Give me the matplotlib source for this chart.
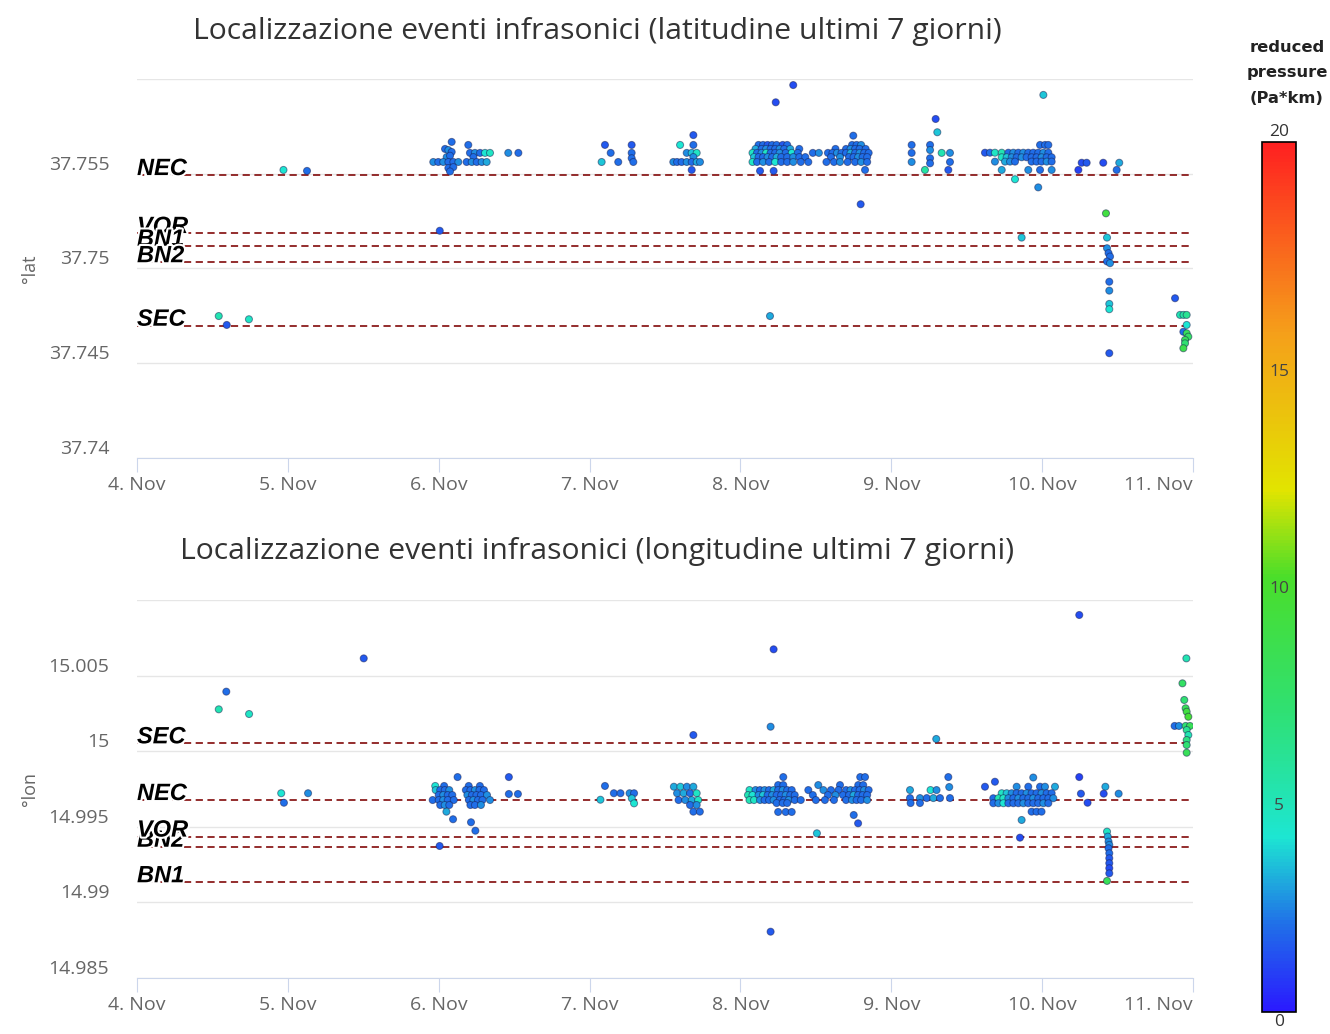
import matplotlib
matplotlib.use("Agg")
import matplotlib.pyplot as plt
import matplotlib.patheffects as pe
from matplotlib.colors import LinearSegmentedColormap, Normalize
from matplotlib.cm import ScalarMappable
from matplotlib.transforms import ScaledTranslation, blended_transform_factory

# giorni di novembre (frazione = ora del giorno)
day_ticks = [4, 5, 6, 7, 8, 9, 10, 11]
day_labels = ["4. Nov", "5. Nov", "6. Nov", "7. Nov", "8. Nov", "9. Nov", "10. Nov", "11. Nov"]

# stazioni
lat_station_names = ["NEC", "VOR", "BN1", "BN2", "SEC"]
lat_station_vals = [37.75493, 37.75187, 37.75120, 37.75033, 37.74698]
lon_station_names = ["SEC", "NEC", "BN2", "VOR", "BN1"]
lon_station_vals = [15.00052, 14.99677, 14.99368, 14.99435, 14.99133]

lat_ticks = [37.74, 37.745, 37.75, 37.755, 37.76]
lat_tick_labels = ["37.74", "37.745", "37.75", "37.755", ""]
lon_ticks = [14.985, 14.99, 14.995, 15.0, 15.005, 15.01]
lon_tick_labels = ["14.985", "14.99", "14.995", "15", "15.005", ""]

# eventi - latitudine
lat_day = [
    4.542, 4.595, 4.742,
    4.971, 5.127,
    6.007,
    6.086, 6.042, 6.064, 6.086, 6.053, 6.075, 5.964, 5.997, 6.030, 6.064, 6.097, 6.130, 6.064, 6.097, 6.075,
    6.196, 6.207, 6.240, 6.274, 6.307, 6.340, 6.230, 6.185, 6.219, 6.252, 6.285, 6.318, 6.461, 6.528,
    7.102, 7.140, 7.080, 7.190, 7.279, 7.279, 7.279, 7.290,
    7.688, 7.600, 7.688, 7.644, 7.677, 7.710, 7.688, 7.555, 7.580, 7.610, 7.644, 7.677, 7.710, 7.732, 7.677,
    8.350, 8.234, 8.196, 8.797, 8.748, 8.826,
    8.12, 8.15, 8.18, 8.21, 8.24, 8.28, 8.31,
    8.10, 8.14, 8.17, 8.20, 8.23, 8.26, 8.29, 8.33, 8.39,
    8.08, 8.11, 8.14, 8.17, 8.20, 8.23, 8.26, 8.30, 8.34, 8.38, 8.48, 8.52,
    8.09, 8.12, 8.15, 8.18, 8.21, 8.24, 8.27, 8.31, 8.35, 8.39, 8.43,
    8.08, 8.11, 8.15, 8.19, 8.23, 8.27, 8.31, 8.35, 8.40, 8.45,
    8.13, 8.22,
    8.74, 8.77, 8.80,
    8.63, 8.70, 8.73, 8.76, 8.79, 8.83,
    8.58, 8.61, 8.64, 8.67, 8.70, 8.73, 8.76, 8.79, 8.82, 8.85,
    8.60, 8.66, 8.72, 8.75, 8.78, 8.81, 8.84,
    8.57, 8.62, 8.66, 8.71, 8.76, 8.80, 8.84,
    9.294, 9.305, 9.135, 9.135, 9.135, 9.257, 9.257, 9.257, 9.257, 9.334, 9.389, 9.389, 9.223, 9.378,
    10.008, 9.820, 9.974, 9.864,
    9.986, 10.019, 10.041,
    9.621, 9.654, 9.687, 9.732, 9.776, 9.809, 9.842, 9.875, 9.908, 9.941, 9.974, 10.008, 10.041,
    9.732, 9.765, 9.798, 9.831, 9.864, 9.897, 9.930, 9.963, 9.996, 10.030, 10.063,
    9.687, 9.754, 9.787, 9.820, 9.930, 9.963, 9.996, 10.030, 10.063,
    9.732, 9.908, 9.986, 10.063,
    10.240, 10.262, 10.295, 10.405, 10.511, 10.494,
    10.423, 10.430, 10.430, 10.440, 10.450, 10.430, 10.450, 10.445, 10.445, 10.445, 10.445, 10.445,
    10.881, 10.914, 10.937, 10.958, 10.936, 10.958, 10.958, 10.969, 10.947, 10.947, 10.936,
]
lat_deg = [
    37.74749, 37.74702, 37.74732,
    37.75520, 37.75515,
    37.75199,
    37.75668, 37.75631, 37.75625, 37.75615, 37.75588, 37.75595, 37.75562, 37.75562, 37.75562, 37.75562, 37.75562, 37.75562, 37.75530, 37.75535, 37.75512,
    37.75652, 37.75610, 37.75610, 37.75610, 37.75610, 37.75610, 37.75588, 37.75562, 37.75562, 37.75562, 37.75562, 37.75562, 37.75610, 37.75610,
    37.75652, 37.75610, 37.75562, 37.75562, 37.75652, 37.75610, 37.75582, 37.75562,
    37.75704, 37.75652, 37.75652, 37.75610, 37.75610, 37.75610, 37.75588, 37.75562, 37.75562, 37.75562, 37.75562, 37.75562, 37.75562, 37.75562, 37.75520,
    37.75968, 37.75877, 37.74749, 37.75339, 37.75701, 37.75520,
    37.75652, 37.75652, 37.75652, 37.75652, 37.75652, 37.75652, 37.75652,
    37.75631, 37.75631, 37.75631, 37.75631, 37.75631, 37.75631, 37.75631, 37.75631, 37.75631,
    37.75610, 37.75610, 37.75610, 37.75610, 37.75610, 37.75610, 37.75610, 37.75610, 37.75610, 37.75610, 37.75610, 37.75610,
    37.75588, 37.75588, 37.75588, 37.75588, 37.75588, 37.75588, 37.75588, 37.75588, 37.75588, 37.75588, 37.75588,
    37.75562, 37.75562, 37.75562, 37.75562, 37.75562, 37.75562, 37.75562, 37.75562, 37.75562, 37.75562,
    37.75515, 37.75515,
    37.75652, 37.75652, 37.75652,
    37.75631, 37.75631, 37.75631, 37.75631, 37.75631, 37.75631,
    37.75610, 37.75610, 37.75610, 37.75610, 37.75610, 37.75610, 37.75610, 37.75610, 37.75610, 37.75610,
    37.75588, 37.75588, 37.75588, 37.75588, 37.75588, 37.75588, 37.75588,
    37.75562, 37.75562, 37.75562, 37.75562, 37.75562, 37.75562, 37.75562,
    37.75789, 37.75719, 37.75652, 37.75610, 37.75562, 37.75652, 37.75625, 37.75582, 37.75555, 37.75610, 37.75610, 37.75562, 37.75520, 37.75520,
    37.75916, 37.75471, 37.75428, 37.75163,
    37.75652, 37.75652, 37.75652,
    37.75611, 37.75611, 37.75611, 37.75611, 37.75611, 37.75611, 37.75611, 37.75611, 37.75611, 37.75611, 37.75611, 37.75611, 37.75611,
    37.75587, 37.75587, 37.75587, 37.75587, 37.75587, 37.75587, 37.75587, 37.75587, 37.75587, 37.75587, 37.75587,
    37.75564, 37.75564, 37.75564, 37.75564, 37.75564, 37.75564, 37.75564, 37.75564, 37.75564,
    37.75520, 37.75520, 37.75520, 37.75520,
    37.75520, 37.75558, 37.75558, 37.75558, 37.75558, 37.75520,
    37.75291, 37.75163, 37.75107, 37.75081, 37.75063, 37.75037, 37.75028, 37.74930, 37.74883, 37.74813, 37.74785, 37.74553,
    37.74843, 37.74755, 37.74755, 37.74755, 37.74666, 37.74702, 37.74658, 37.74640, 37.74623, 37.74605, 37.74579,
]
lat_rp = [
    5.0, 1.5, 4.5,
    4.0, 2.0,
    1.5,
    2.0, 2.0, 2.5, 2.0, 2.5, 2.0, 2.5, 2.0, 2.5, 2.0, 2.0, 2.5, 2.0, 2.0, 2.0,
    2.0, 2.0, 2.5, 2.0, 4.0, 4.5, 2.0, 2.0, 2.5, 2.0, 2.5, 3.0, 2.5, 2.0,
    1.5, 2.0, 3.5, 2.0, 1.5, 2.0, 2.0, 2.0,
    1.5, 4.0, 2.0, 2.5, 3.5, 4.5, 2.5, 2.5, 2.0, 2.0, 2.5, 2.0, 3.0, 2.5, 1.5,
    1.2, 1.2, 3.0, 1.5, 2.0, 2.0,
    2.0, 2.0, 1.5, 2.0, 2.0, 1.5, 2.0,
    3.0, 2.0, 2.5, 2.0, 2.0, 2.5, 2.0, 3.0, 2.0,
    4.5, 2.0, 2.5, 4.5, 2.0, 2.0, 2.5, 2.0, 4.0, 2.0, 2.0, 2.5,
    3.5, 2.0, 2.0, 2.5, 2.0, 3.0, 2.0, 2.0, 2.5, 2.0, 2.0,
    4.5, 2.0, 2.5, 2.0, 4.0, 2.0, 2.0, 2.5, 2.0, 2.0,
    1.5, 1.5,
    2.0, 2.0, 2.5,
    2.0, 2.0, 2.5, 2.0, 2.0, 2.0,
    2.0, 2.0, 2.5, 2.0, 2.0, 3.0, 2.0, 2.5, 2.0, 2.0,
    2.0, 2.5, 2.0, 2.0, 2.5, 2.0, 2.0,
    2.0, 2.0, 2.5, 2.0, 2.0, 2.5, 2.0,
    1.2, 3.5, 2.0, 2.0, 2.5, 2.0, 2.5, 2.0, 2.0, 5.0, 2.5, 2.0, 5.5, 1.5,
    3.5, 4.0, 2.5, 3.5,
    2.0, 2.0, 2.0,
    1.5, 2.0, 4.5, 5.0, 2.0, 2.5, 2.0, 2.5, 2.0, 2.0, 2.0, 2.5, 2.0,
    4.5, 3.5, 2.5, 2.0, 2.5, 2.0, 2.0, 2.0, 2.5, 2.0, 2.0,
    2.5, 3.0, 2.5, 2.0, 2.0, 2.0, 2.0, 2.5, 2.0,
    3.0, 2.5, 2.0, 2.5,
    1.0, 1.2, 1.5, 1.2, 3.0, 2.0,
    9.0, 3.5, 2.5, 2.0, 2.0, 2.0, 2.5, 2.0, 2.5, 3.5, 4.0, 1.5,
    1.5, 5.0, 5.5, 6.0, 2.0, 4.0, 8.0, 7.5, 8.0, 7.0, 8.5,
]

# eventi - longitudine
lon_day = [
    5.503, 4.592, 4.542, 4.743,
    4.956, 4.974, 5.134,
    6.125, 5.977, 6.036, 6.199, 6.273, 6.465, 6.465, 6.525,
    5.98, 6.01, 6.04, 6.07, 6.18, 6.21, 6.24, 6.27, 6.30,
    6.00, 6.03, 6.06, 6.09, 6.19, 6.22, 6.25, 6.28, 6.32,
    5.96, 6.00, 6.03, 6.06, 6.10, 6.20, 6.23, 6.26, 6.29, 6.34,
    6.01, 6.04, 6.07, 6.21, 6.24, 6.28,
    6.051, 6.095, 6.214, 6.243, 6.006,
    7.102, 7.161, 7.205, 7.265, 7.295, 7.072, 7.280, 7.295,
    7.688, 7.559, 7.602, 7.645, 7.688, 7.580, 7.623, 7.666, 7.710, 7.590, 7.634, 7.677, 7.720, 7.666, 7.710, 7.688, 7.731,
    8.220, 8.200, 8.200, 8.507, 8.751, 8.780,
    8.284, 8.794, 8.826,
    8.250, 8.284, 8.516, 8.660, 8.781, 8.814,
    8.06, 8.10, 8.13, 8.16, 8.19, 8.22, 8.25, 8.28, 8.31, 8.34, 8.45, 8.55, 8.60, 8.65, 8.70, 8.73, 8.76, 8.79, 8.82, 8.85,
    8.05, 8.08, 8.12, 8.15, 8.18, 8.21, 8.24, 8.27, 8.30, 8.33, 8.36, 8.48, 8.58, 8.63, 8.68, 8.72, 8.75, 8.78, 8.81, 8.84,
    8.06, 8.09, 8.13, 8.16, 8.19, 8.22, 8.26, 8.29, 8.32, 8.36, 8.40, 8.50, 8.56, 8.62, 8.70, 8.74, 8.77, 8.80, 8.84,
    8.24, 8.28, 8.31,
    8.25, 8.30, 8.34,
    9.378, 9.384, 9.124, 9.190, 9.235, 9.279, 9.323, 9.389, 9.124, 9.260, 9.300, 9.128, 9.190, 9.298,
    9.621, 9.687, 9.941, 9.831, 9.908, 9.986, 10.019, 10.085,
    9.732, 9.765, 9.798, 9.831, 9.864, 9.897, 9.930, 9.963, 9.996, 10.030, 10.063,
    9.676, 9.710, 9.743, 9.776, 9.809, 9.842, 9.875, 9.908, 9.941, 9.974, 10.008, 10.041, 10.074,
    9.676, 9.710, 9.743, 9.776, 9.809, 9.842, 9.875, 9.908, 9.941, 9.974, 10.008, 10.041,
    9.930, 9.963, 9.996, 9.864, 9.853,
    10.246, 10.246, 10.257, 10.301, 10.419, 10.408, 10.507,
    10.430, 10.435, 10.440, 10.445, 10.440, 10.445, 10.445, 10.445, 10.445, 10.445, 10.430,
    10.956, 10.930, 10.942, 10.951, 10.958, 10.969, 10.878, 10.907, 10.951, 10.980, 10.958, 10.969, 10.958, 10.958, 10.958,
]
lon_deg = [
    15.00614, 15.00394, 15.00277, 15.00246,
    14.99722, 14.99659, 14.99722,
    14.99829, 14.99770, 14.99770, 14.99770, 14.99770, 14.99829, 14.99717, 14.99717,
    14.99743, 14.99743, 14.99743, 14.99743, 14.99743, 14.99743, 14.99743, 14.99743, 14.99743,
    14.99710, 14.99710, 14.99710, 14.99710, 14.99710, 14.99710, 14.99710, 14.99710, 14.99710,
    14.99677, 14.99677, 14.99677, 14.99677, 14.99677, 14.99677, 14.99677, 14.99677, 14.99677, 14.99677,
    14.99644, 14.99644, 14.99644, 14.99644, 14.99644, 14.99644,
    14.99600, 14.99550, 14.99530, 14.99474, 14.99373,
    14.99770, 14.99722, 14.99722, 14.99722, 14.99722, 14.99679, 14.99688, 14.99655,
    15.00107, 14.99765, 14.99765, 14.99765, 14.99765, 14.99722, 14.99722, 14.99722, 14.99722, 14.99677, 14.99677, 14.99677, 14.99677, 14.99644, 14.99644, 14.99600, 14.99600,
    15.00674, 15.00162, 14.98806, 14.99457, 14.99578, 14.99523,
    14.99829, 14.99829, 14.99829,
    14.99776, 14.99776, 14.99776, 14.99776, 14.99776, 14.99776,
    14.99743, 14.99743, 14.99743, 14.99743, 14.99743, 14.99743, 14.99743, 14.99743, 14.99743, 14.99743, 14.99743, 14.99743, 14.99743, 14.99743, 14.99743, 14.99743, 14.99743, 14.99743, 14.99743, 14.99743,
    14.99710, 14.99710, 14.99710, 14.99710, 14.99710, 14.99710, 14.99710, 14.99710, 14.99710, 14.99710, 14.99710, 14.99710, 14.99710, 14.99710, 14.99710, 14.99710, 14.99710, 14.99710, 14.99710, 14.99710,
    14.99677, 14.99677, 14.99677, 14.99677, 14.99677, 14.99677, 14.99677, 14.99677, 14.99677, 14.99677, 14.99677, 14.99677, 14.99677, 14.99677, 14.99677, 14.99677, 14.99677, 14.99677, 14.99677,
    14.99657, 14.99657, 14.99657,
    14.99598, 14.99598, 14.99598,
    14.99829, 14.99763, 14.99690, 14.99690, 14.99690, 14.99690, 14.99690, 14.99690, 14.99743, 14.99743, 14.99743, 14.99657, 14.99657, 15.00081,
    14.99765, 14.99798, 14.99826, 14.99765, 14.99765, 14.99765, 14.99765, 14.99765,
    14.99722, 14.99722, 14.99722, 14.99722, 14.99722, 14.99722, 14.99722, 14.99722, 14.99722, 14.99722, 14.99722,
    14.99689, 14.99689, 14.99689, 14.99689, 14.99689, 14.99689, 14.99689, 14.99689, 14.99689, 14.99689, 14.99689, 14.99689, 14.99689,
    14.99656, 14.99656, 14.99656, 14.99656, 14.99656, 14.99656, 14.99656, 14.99656, 14.99656, 14.99656, 14.99656, 14.99656,
    14.99600, 14.99600, 14.99600, 14.99545, 14.99428,
    15.00901, 14.99829, 14.99719, 14.99659, 14.99765, 14.99719, 14.99719,
    14.99468, 14.99435, 14.99402, 14.99380, 14.99358, 14.99325, 14.99292, 14.99259, 14.99226, 14.99192, 14.99142,
    15.00614, 15.00449, 15.00339, 15.00284, 15.00261, 15.00228, 15.00167, 15.00167, 15.00167, 15.00167, 15.00140, 15.00107, 15.00074, 15.00041, 14.99990,
]
lon_rp = [
    1.5, 2.0, 5.0, 4.5,
    4.0, 2.0, 2.5,
    2.0, 4.0, 2.0, 2.0, 2.0, 1.5, 2.0, 2.0,
    3.5, 2.0, 2.0, 2.5, 2.0, 2.0, 2.5, 2.0, 2.0,
    2.0, 2.5, 2.0, 2.0, 2.5, 2.0, 2.0, 2.0, 2.5,
    2.0, 2.0, 2.5, 2.0, 2.0, 2.0, 2.5, 2.0, 2.0, 2.5,
    2.0, 2.5, 2.0, 2.0, 2.0, 2.5,
    3.0, 2.0, 2.0, 2.0, 1.5,
    2.0, 2.0, 2.0, 2.5, 2.0, 3.5, 3.5, 4.0,
    1.5, 3.0, 3.5, 2.5, 3.0, 2.5, 3.0, 2.0, 4.5, 2.0, 2.5, 3.0, 4.5, 2.0, 2.5, 2.0, 2.0,
    1.2, 2.5, 1.5, 3.5, 2.0, 1.5,
    2.0, 2.0, 2.0,
    2.0, 2.0, 2.5, 2.0, 2.0, 2.0,
    4.5, 2.5, 2.0, 2.5, 2.0, 3.0, 2.0, 2.5, 2.0, 2.0, 2.0, 2.5, 2.0, 2.0, 2.0, 2.5, 2.0, 2.0, 2.5, 2.0,
    5.0, 4.0, 2.5, 3.5, 2.0, 2.5, 2.0, 2.0, 2.5, 2.0, 2.0, 2.0, 2.0, 2.5, 2.0, 2.0, 3.0, 2.0, 2.0, 2.0,
    5.0, 4.5, 2.5, 2.0, 2.0, 2.5, 2.0, 2.0, 2.5, 2.0, 2.0, 2.0, 2.0, 2.0, 2.0, 2.5, 2.0, 2.0, 2.5,
    2.0, 2.0, 2.0,
    2.0, 2.0, 2.0,
    2.0, 2.5, 2.0, 2.5, 2.0, 3.0, 2.0, 2.0, 3.0, 4.0, 2.5, 2.0, 2.0, 3.0,
    1.5, 1.5, 2.5, 2.5, 2.0, 2.0, 2.5, 3.0,
    4.5, 3.5, 2.5, 2.0, 2.0, 2.5, 2.0, 2.0, 2.5, 2.0, 2.0,
    2.0, 5.0, 4.5, 2.5, 2.0, 2.5, 2.0, 2.0, 2.5, 2.0, 2.0, 2.0, 2.5,
    2.0, 2.5, 4.0, 2.0, 2.0, 2.0, 2.5, 2.0, 2.0, 2.0, 2.5, 2.0,
    2.0, 2.0, 2.0, 3.0, 1.2,
    1.2, 1.0, 1.5, 1.2, 3.0, 1.2, 2.5,
    4.5, 3.0, 2.5, 2.5, 2.0, 2.0, 1.5, 1.5, 1.2, 1.5, 8.0,
    5.0, 7.5, 7.0, 8.0, 9.0, 9.5, 2.0, 2.5, 7.0, 8.0, 6.0, 5.0, 6.5, 7.0, 8.0,
]

assert len(lat_day) == len(lat_deg) == len(lat_rp)
assert len(lon_day) == len(lon_deg) == len(lon_rp)

# scala colori pressione ridotta
cmap = LinearSegmentedColormap.from_list("rp", [
    (0.00, "#2a1aff"), (0.10, "#2070e8"), (0.20, "#1de6d2"), (0.35, "#30e070"),
    (0.50, "#4ade2a"), (0.60, "#e2e400"), (0.78, "#f5a01a"), (1.00, "#ff2020"),
])
norm = Normalize(0, 20)

fig = plt.figure(figsize=(13.3, 10.34), dpi=100)
fig.patch.set_facecolor("white")


def draw_panel(ax, days, coords, rp, names, values, ticks, labels, ylabel):
    ax.set_xlim(4, 11)
    ax.set_ylim(ticks[0], ticks[-1])
    ax.set_yticks(ticks)
    ax.set_yticklabels(labels)
    ax.set_xticks(day_ticks)
    ax.set_xticklabels(day_labels)
    ax.grid(axis="y", color="#e6e6e6", lw=1)
    ax.set_axisbelow(True)
    for s in ["top", "right", "left"]:
        ax.spines[s].set_visible(False)
    ax.spines["bottom"].set_color("#ccd6eb")
    ax.tick_params(axis="y", length=0, pad=20, labelsize=14, labelcolor="#666666")
    ax.tick_params(axis="x", length=10, color="#ccd6eb", pad=3, labelsize=14, labelcolor="#666666")
    for lab in ax.get_xticklabels() + ax.get_yticklabels():
        lab.set_family("Open Sans")
    ax.get_xticklabels()[-1].set_ha("right")
    up = ScaledTranslation(0, 0.11, fig.dpi_scale_trans)
    for lab in ax.get_yticklabels():
        lab.set_transform(lab.get_transform() + up)
    ax.set_ylabel(ylabel, color="#666666", fontsize=13, family="Open Sans")
    ax.yaxis.set_label_coords(-0.093, 0.5)

    for name, v in zip(names, values):
        ax.axhline(v, color="#8b1c1c", lw=1.3, ls=(0, (4, 2.5)), zorder=2)
    for name, v in zip(names, values):
        ax.text(4.0, v, name, ha="left", va="baseline", fontsize=17, fontweight="bold",
                fontstyle="italic", family="Liberation Sans", color="black", zorder=4,
                path_effects=[pe.withStroke(linewidth=3, foreground="white")])

    ax.scatter(days, coords, c=rp, cmap=cmap, norm=norm, s=26,
               edgecolors=(0.08, 0.1, 0.3, 0.5), linewidths=0.7, zorder=3)


ax1 = fig.add_axes([0.1030, 0.5571, 0.7940, 0.3665])
draw_panel(ax1, lat_day, lat_deg, lat_rp, lat_station_names, lat_station_vals,
           lat_ticks, lat_tick_labels, "°lat")
ax2 = fig.add_axes([0.1030, 0.0542, 0.7940, 0.3655])
draw_panel(ax2, lon_day, lon_deg, lon_rp, lon_station_names, lon_station_vals,
           lon_ticks, lon_tick_labels, "°lon")

fig.text(597 / 1330, 1 - 32 / 1034, "Localizzazione eventi infrasonici (latitudine ultimi 7 giorni)",
         ha="center", va="center", fontsize=21.7, color="#333333", family="Open Sans")
fig.text(597 / 1330, 1 - 552 / 1034, "Localizzazione eventi infrasonici (longitudine ultimi 7 giorni)",
         ha="center", va="center", fontsize=21.7, color="#333333", family="Open Sans")

# barra colori
cax = fig.add_axes([1262 / 1330, 1 - 1012 / 1034, 34 / 1330, 870 / 1034])
cb = fig.colorbar(ScalarMappable(norm=norm, cmap=cmap), cax=cax)
cb.set_ticks([])
cb.outline.set_edgecolor("black")
cb.outline.set_linewidth(1.2)
tr = blended_transform_factory(cax.transAxes, cax.transData)
cax.text(0.5, 20, "20", transform=tr + ScaledTranslation(0, 0.02, fig.dpi_scale_trans),
         ha="center", va="bottom", fontsize=12.5, color="#333333", family="Open Sans")
cax.text(0.5, 0, "0", transform=tr + ScaledTranslation(0, -0.02, fig.dpi_scale_trans),
         ha="center", va="top", fontsize=12.5, color="#333333", family="Open Sans")
for v in [5, 10, 15]:
    cax.text(0.5, v, str(v), transform=tr + ScaledTranslation(0, -0.12, fig.dpi_scale_trans),
             ha="center", va="center", fontsize=12.5, color="#444444", family="Open Sans")
fig.text(1287 / 1330, 1 - 73 / 1034, "reduced\npressure\n(Pa*km)", ha="center", va="center",
         fontsize=11.8, fontweight="bold", color="#222222", linespacing=1.9, family="DejaVu Sans")

fig.savefig("out.png", dpi=100, facecolor="white")
